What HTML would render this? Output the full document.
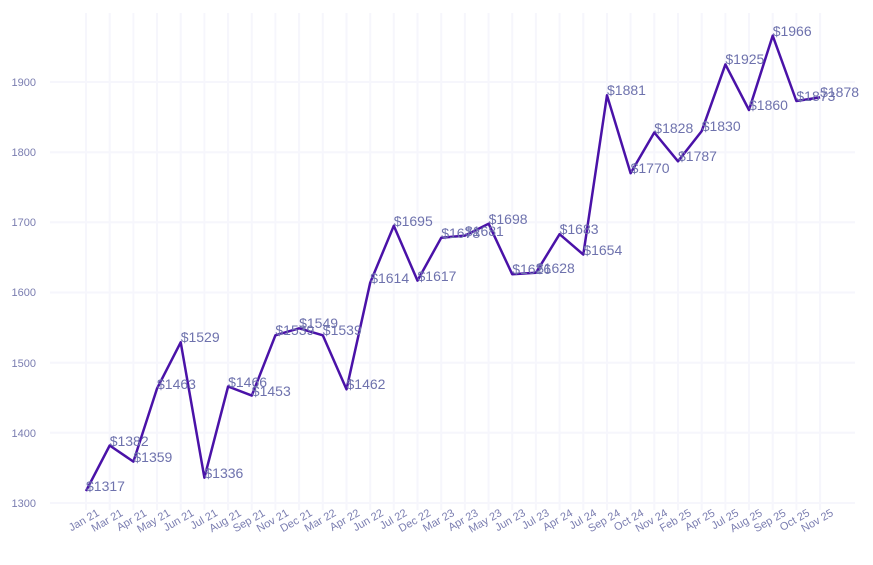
<!DOCTYPE html>
<html><head><meta charset="utf-8"><style>
html,body{margin:0;padding:0;background:#fff;}
svg{display:block;font-family:"Liberation Sans",sans-serif;}
.g{stroke:#f6f6fc;stroke-width:2;}
.yl{font-size:11px;fill:#7a7db0;text-anchor:end;}
.xl{font-size:11px;fill:#7a7db0;text-anchor:end;}
.dl{font-size:14px;fill:#6e72ad;}
</style></head><body>
<svg width="873" height="565" viewBox="0 0 873 565">
<g class="g">
<line x1="50" x2="855" y1="503" y2="503"/><line x1="50" x2="855" y1="432.8" y2="432.8"/><line x1="50" x2="855" y1="362.7" y2="362.7"/><line x1="50" x2="855" y1="292.5" y2="292.5"/><line x1="50" x2="855" y1="222.3" y2="222.3"/><line x1="50" x2="855" y1="152.2" y2="152.2"/><line x1="50" x2="855" y1="82" y2="82"/>
<line x1="86" x2="86" y1="13" y2="510"/><line x1="109.7" x2="109.7" y1="13" y2="510"/><line x1="133.4" x2="133.4" y1="13" y2="510"/><line x1="157" x2="157" y1="13" y2="510"/><line x1="180.7" x2="180.7" y1="13" y2="510"/><line x1="204.4" x2="204.4" y1="13" y2="510"/><line x1="228.1" x2="228.1" y1="13" y2="510"/><line x1="251.8" x2="251.8" y1="13" y2="510"/><line x1="275.4" x2="275.4" y1="13" y2="510"/><line x1="299.1" x2="299.1" y1="13" y2="510"/><line x1="322.8" x2="322.8" y1="13" y2="510"/><line x1="346.5" x2="346.5" y1="13" y2="510"/><line x1="370.2" x2="370.2" y1="13" y2="510"/><line x1="393.8" x2="393.8" y1="13" y2="510"/><line x1="417.5" x2="417.5" y1="13" y2="510"/><line x1="441.2" x2="441.2" y1="13" y2="510"/><line x1="464.9" x2="464.9" y1="13" y2="510"/><line x1="488.6" x2="488.6" y1="13" y2="510"/><line x1="512.2" x2="512.2" y1="13" y2="510"/><line x1="535.9" x2="535.9" y1="13" y2="510"/><line x1="559.6" x2="559.6" y1="13" y2="510"/><line x1="583.3" x2="583.3" y1="13" y2="510"/><line x1="607" x2="607" y1="13" y2="510"/><line x1="630.6" x2="630.6" y1="13" y2="510"/><line x1="654.3" x2="654.3" y1="13" y2="510"/><line x1="678" x2="678" y1="13" y2="510"/><line x1="701.7" x2="701.7" y1="13" y2="510"/><line x1="725.4" x2="725.4" y1="13" y2="510"/><line x1="749" x2="749" y1="13" y2="510"/><line x1="772.7" x2="772.7" y1="13" y2="510"/><line x1="796.4" x2="796.4" y1="13" y2="510"/><line x1="820.1" x2="820.1" y1="13" y2="510"/>
</g>
<g class="yl">
<text x="36" y="507">1300</text><text x="36" y="437">1400</text><text x="36" y="367">1500</text><text x="36" y="296">1600</text><text x="36" y="226">1700</text><text x="36" y="156">1800</text><text x="36" y="86">1900</text>
</g>
<polyline fill="none" stroke="#4a12a8" stroke-width="2.5" stroke-linejoin="round" points="86,491.1 109.7,445.5 133.4,461.6 157,388.6 180.7,342.3 204.4,477.7 228.1,386.5 251.8,395.6 275.4,335.3 299.1,328.3 322.8,335.3 346.5,389.3 370.2,282.7 393.8,225.8 417.5,280.6 441.2,237.8 464.9,235.6 488.6,223.7 512.2,274.2 535.9,272.8 559.6,234.2 583.3,254.6 607,95.3 630.6,173.2 654.3,132.5 678,161.3 701.7,131.1 725.4,64.4 749,110 772.7,35.7 796.4,101 820.1,97.4"/>
<g class="dl">
<text x="86" y="491">$1317</text><text x="109.7" y="446">$1382</text><text x="133.4" y="462">$1359</text><text x="157" y="389">$1463</text><text x="180.7" y="342">$1529</text><text x="204.4" y="478">$1336</text><text x="228.1" y="387">$1466</text><text x="251.8" y="396">$1453</text><text x="275.4" y="335">$1539</text><text x="299.1" y="328">$1549</text><text x="322.8" y="335">$1539</text><text x="346.5" y="389">$1462</text><text x="370.2" y="283">$1614</text><text x="393.8" y="226">$1695</text><text x="417.5" y="281">$1617</text><text x="441.2" y="238">$1678</text><text x="464.9" y="236">$1681</text><text x="488.6" y="224">$1698</text><text x="512.2" y="274">$1626</text><text x="535.9" y="273">$1628</text><text x="559.6" y="234">$1683</text><text x="583.3" y="255">$1654</text><text x="607" y="95">$1881</text><text x="630.6" y="173">$1770</text><text x="654.3" y="133">$1828</text><text x="678" y="161">$1787</text><text x="701.7" y="131">$1830</text><text x="725.4" y="64">$1925</text><text x="749" y="110">$1860</text><text x="772.7" y="36">$1966</text><text x="796.4" y="101">$1873</text><text x="820.1" y="97">$1878</text>
</g>
<g class="dl" transform="translate(0,5)"></g>
<g class="xl">
<text transform="translate(100,515) rotate(-30)">Jan 21</text><text transform="translate(123.7,515) rotate(-30)">Mar 21</text><text transform="translate(147.4,515) rotate(-30)">Apr 21</text><text transform="translate(171,515) rotate(-30)">May 21</text><text transform="translate(194.7,515) rotate(-30)">Jun 21</text><text transform="translate(218.4,515) rotate(-30)">Jul 21</text><text transform="translate(242.1,515) rotate(-30)">Aug 21</text><text transform="translate(265.8,515) rotate(-30)">Sep 21</text><text transform="translate(289.4,515) rotate(-30)">Nov 21</text><text transform="translate(313.1,515) rotate(-30)">Dec 21</text><text transform="translate(336.8,515) rotate(-30)">Mar 22</text><text transform="translate(360.5,515) rotate(-30)">Apr 22</text><text transform="translate(384.2,515) rotate(-30)">Jun 22</text><text transform="translate(407.8,515) rotate(-30)">Jul 22</text><text transform="translate(431.5,515) rotate(-30)">Dec 22</text><text transform="translate(455.2,515) rotate(-30)">Mar 23</text><text transform="translate(478.9,515) rotate(-30)">Apr 23</text><text transform="translate(502.6,515) rotate(-30)">May 23</text><text transform="translate(526.2,515) rotate(-30)">Jun 23</text><text transform="translate(549.9,515) rotate(-30)">Jul 23</text><text transform="translate(573.6,515) rotate(-30)">Apr 24</text><text transform="translate(597.3,515) rotate(-30)">Jul 24</text><text transform="translate(621,515) rotate(-30)">Sep 24</text><text transform="translate(644.6,515) rotate(-30)">Oct 24</text><text transform="translate(668.3,515) rotate(-30)">Nov 24</text><text transform="translate(692,515) rotate(-30)">Feb 25</text><text transform="translate(715.7,515) rotate(-30)">Apr 25</text><text transform="translate(739.4,515) rotate(-30)">Jul 25</text><text transform="translate(763,515) rotate(-30)">Aug 25</text><text transform="translate(786.7,515) rotate(-30)">Sep 25</text><text transform="translate(810.4,515) rotate(-30)">Oct 25</text><text transform="translate(834.1,515) rotate(-30)">Nov 25</text>
</g>
</svg>
</body></html>
